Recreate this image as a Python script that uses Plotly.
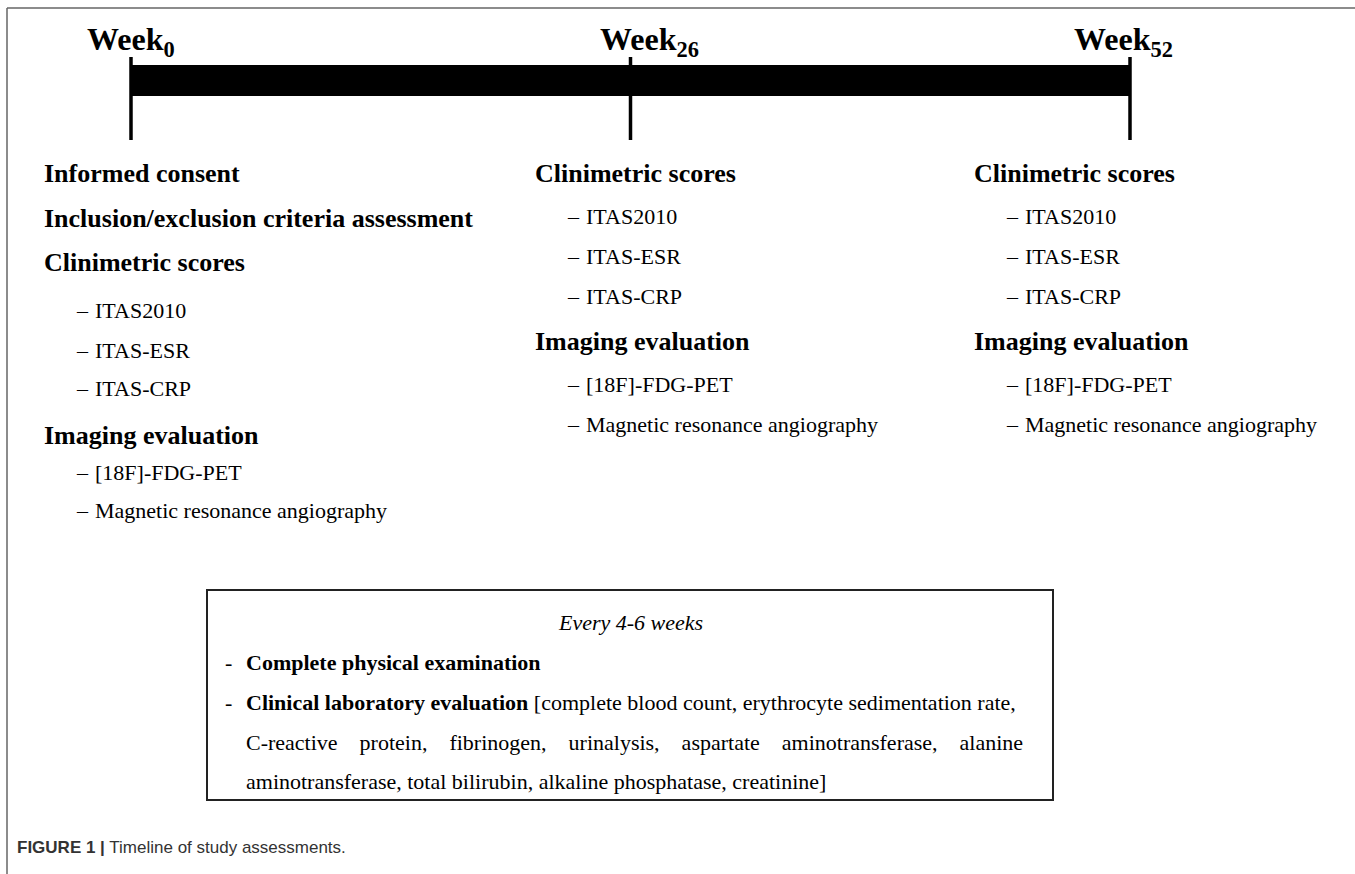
import plotly.graph_objects as go

W, H = 1355, 874
SERIF = "Liberation Serif, Times New Roman, serif"
SANS = "Liberation Sans, Arial, Helvetica, sans-serif"

# ---------------- data ----------------
milestone_weeks = [0, 26, 52]
milestone_subs = ["0", "26", "52"]

baseline_lines = ["Informed consent", "Inclusion/exclusion criteria assessment",
                  "Clinimetric scores", "ITAS2010", "ITAS-ESR", "ITAS-CRP",
                  "Imaging evaluation", "[18F]-FDG-PET", "Magnetic resonance angiography"]
baseline_is_header = [True, True, True, False, False, False, True, False, False]

followup_lines = ["Clinimetric scores", "ITAS2010", "ITAS-ESR", "ITAS-CRP",
                  "Imaging evaluation", "[18F]-FDG-PET", "Magnetic resonance angiography"]
followup_is_header = [True, False, False, False, True, False, False]

box_title = "Every 4-6 weeks"
box_bold_items = ["Complete physical examination", "Clinical laboratory evaluation"]
lab_tests_line1 = "[complete blood count, erythrocyte sedimentation rate,"
lab_tests_line2 = ["C-reactive", "protein,", "fibrinogen,", "urinalysis,", "aspartate",
                   "aminotransferase,", "alanine"]
lab_tests_line3 = "aminotransferase, total bilirubin, alkaline phosphatase, creatinine]"

caption_bold = "FIGURE 1 |"
caption_text = "Timeline of study assessments."

# ---------------- layout constants (pixels) ----------------
BAR_PX = (131, 1130)          # pixel position of first and last milestone
label_x = [85, 598, 1072]
col_x = [42, 533, 972]
col1_y = [173, 218, 262, 310, 350, 388, 435, 472, 510]
col23_y = [173, 216, 256, 296, 341, 384, 424]
BOX = (207, 590, 1053, 800)
box_y = [622, 662, 702, 742, 781]

ppw = (BAR_PX[1] - BAR_PX[0]) / (milestone_weeks[-1] - milestone_weeks[0])
x_lo = milestone_weeks[0] - BAR_PX[0] / ppw
x_hi = milestone_weeks[-1] + (W - BAR_PX[1]) / ppw

fig = go.Figure()

# timeline bar
fig.add_trace(go.Bar(x=[milestone_weeks[-1] - milestone_weeks[0]], base=[milestone_weeks[0]],
                     y=[80.5], width=[31], orientation="h",
                     marker=dict(color="black", line=dict(width=0)),
                     hoverinfo="skip", showlegend=False))

# milestone ticks
tx, ty = [], []
for w in milestone_weeks:
    tx += [w, w, None]
    ty += [57, 140, None]
fig.add_trace(go.Scatter(x=tx, y=ty, mode="lines", line=dict(color="black", width=3.5),
                         hoverinfo="skip", showlegend=False))

ann = []


def px(x):
    return x / W


# milestone labels
for i, s in enumerate(milestone_subs):
    ann.append(dict(x=px(label_x[i]), y=41, xref="paper", yref="y", xanchor="left",
                    yanchor="middle", showarrow=False,
                    text="<b>Week<sub>%s</sub></b>" % s,
                    font=dict(family=SERIF, size=32, color="black")))


def add_column(lines, is_header, x0, ys):
    for t, h, y in zip(lines, is_header, ys):
        if h:
            ann.append(dict(x=px(x0), y=y, xref="paper", yref="y", xanchor="left",
                            yanchor="middle", showarrow=False, text="<b>%s</b>" % t,
                            font=dict(family=SERIF, size=26, color="black")))
        else:
            ann.append(dict(x=px(x0 + 32), y=y, xref="paper", yref="y", xanchor="left",
                            yanchor="middle", showarrow=False, text="\u2013",
                            font=dict(family=SERIF, size=22, color="black")))
            ann.append(dict(x=px(x0 + 51), y=y, xref="paper", yref="y", xanchor="left",
                            yanchor="middle", showarrow=False, text=t,
                            font=dict(family=SERIF, size=22, color="black")))


add_column(baseline_lines, baseline_is_header, col_x[0], col1_y)
add_column(followup_lines, followup_is_header, col_x[1], col23_y)
add_column(followup_lines, followup_is_header, col_x[2], col23_y)

# box content
bx0, by0, bx1, by1 = BOX
ann.append(dict(x=px((bx0 + bx1) / 2), y=box_y[0], xref="paper", yref="y", xanchor="center",
                yanchor="middle", showarrow=False, text="<i>%s</i>" % box_title,
                font=dict(family=SERIF, size=22, color="black")))
for txt, y in [("<b>%s</b>" % box_bold_items[0], box_y[1]),
               ("<b>%s</b> %s" % (box_bold_items[1], lab_tests_line1), box_y[2])]:
    ann.append(dict(x=px(bx0 + 16), y=y, xref="paper", yref="y", xanchor="left",
                    yanchor="middle", showarrow=False, text="-",
                    font=dict(family=SERIF, size=22, color="black")))
    ann.append(dict(x=px(bx0 + 37), y=y, xref="paper", yref="y", xanchor="left",
                    yanchor="middle", showarrow=False, text=txt,
                    font=dict(family=SERIF, size=22, color="black")))
ann.append(dict(x=px(bx0 + 37), y=box_y[3], xref="paper", yref="y", xanchor="left",
                yanchor="middle", showarrow=False,
                text=("\u00a0" * 4).join(lab_tests_line2),
                font=dict(family=SERIF, size=22, color="black")))
ann.append(dict(x=px(bx0 + 37), y=box_y[4], xref="paper", yref="y", xanchor="left",
                yanchor="middle", showarrow=False, text=lab_tests_line3,
                font=dict(family=SERIF, size=22, color="black")))

# caption
ann.append(dict(x=px(15), y=847, xref="paper", yref="y", xanchor="left", yanchor="middle",
                showarrow=False,
                text="<b>%s</b> %s" % (caption_bold, caption_text),
                font=dict(family=SANS, size=17, color="#333333")))

shapes = [
    # frame lines
    dict(type="line", xref="paper", yref="y", x0=px(7), x1=1, y0=8, y1=8,
         line=dict(color="#666666", width=1.5)),
    dict(type="line", xref="paper", yref="y", x0=px(7), x1=px(7), y0=8, y1=H,
         line=dict(color="#666666", width=1.5)),
    # box
    dict(type="rect", xref="paper", yref="y", x0=px(bx0), x1=px(bx1), y0=by0, y1=by1,
         line=dict(color="#222222", width=2), fillcolor="rgba(0,0,0,0)"),
]

fig.update_layout(
    width=W, height=H, margin=dict(l=0, r=0, t=0, b=0),
    paper_bgcolor="white", plot_bgcolor="white",
    xaxis=dict(range=[x_lo, x_hi], visible=False, showgrid=False, zeroline=False, fixedrange=True),
    yaxis=dict(range=[H, 0], visible=False, showgrid=False, zeroline=False, fixedrange=True),
    annotations=ann, shapes=shapes, bargap=0, showlegend=False,
)

fig.write_html("out.html", config={"displayModeBar": False},
               post_script="document.body.style.margin='0';document.body.style.overflow='hidden';")
